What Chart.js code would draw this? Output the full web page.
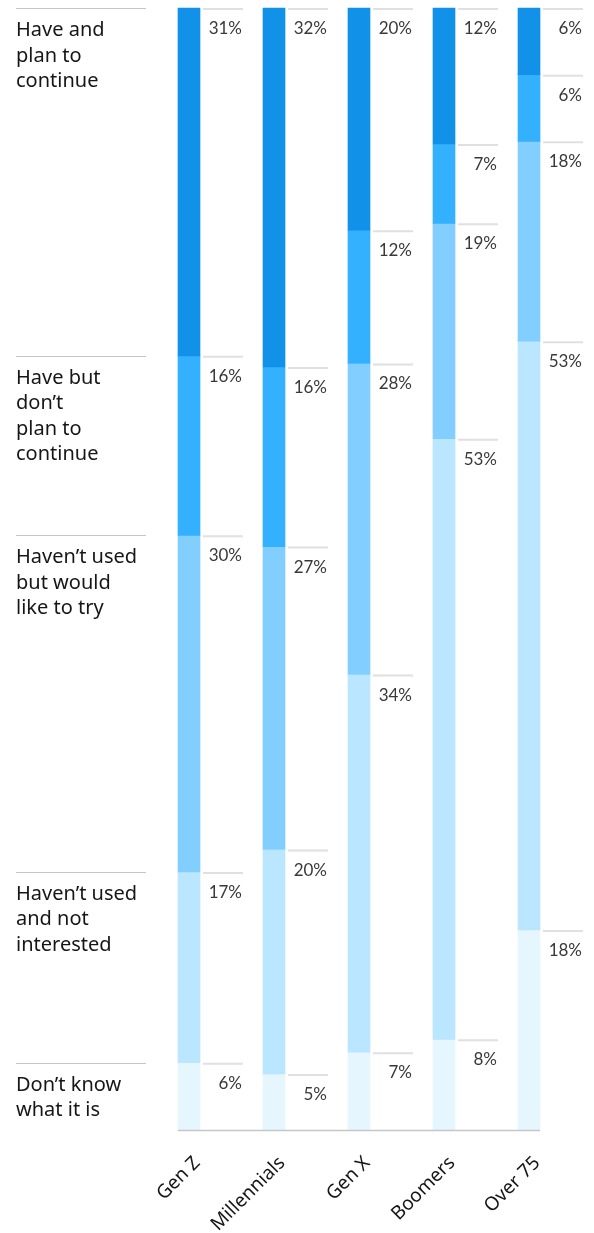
<!DOCTYPE html>
<html>
<head>
<meta charset="utf-8">
<script src="https://cdn.jsdelivr.net/npm/chart.js@4"></script>
<style>
  html, body { margin: 0; padding: 0; background: #fff; }
  canvas { display: block; }
</style>
</head>
<body>
<canvas id="chart" width="594" height="1233"></canvas>
<script>
// generations along the x axis
const generations = ["Gen Z", "Millennials", "Gen X", "Boomers", "Over 75"];

// response categories, top of the stack first (line breaks as in the legend)
const responses = [
    ["Have and", "plan to", "continue"],
    ["Have but", "don\u2019t", "plan to", "continue"],
    ["Haven\u2019t used", "but would", "like to try"],
    ["Haven\u2019t used", "and not", "interested"],
    ["Don\u2019t know", "what it is"]
];

// percentages per generation
const planToContinue   = [31, 32, 20, 12, 6];
const noPlanToContinue = [16, 16, 12, 7, 6];
const wouldLikeToTry   = [30, 27, 28, 19, 18];
const notInterested    = [17, 20, 34, 53, 53];
const dontKnow         = [6, 5, 7, 8, 18];

const series = [planToContinue, noPlanToContinue, wouldLikeToTry, notInterested, dontKnow];
const colors = ["#1192e8", "#33b1ff", "#82cfff", "#bae6ff", "#e5f6ff"];

// each bar fills the full height, so scale every stack to its own total
const totals = generations.map((_, j) => series.reduce((s, arr) => s + arr[j], 0));

const datasets = series.map((arr, i) => ({
    label: responses[i].join(" "),
    data: arr.map((v, j) => v / totals[j] * 100),
    backgroundColor: colors[i],
    borderWidth: 0,
    barThickness: 22,
    clip: false
}));

const labelPlugin = {
    id: "segmentLabels",
    afterDatasetsDraw(chart) {
        const ctx = chart.ctx;
        ctx.save();
        chart.data.datasets.forEach((ds, i) => {
            const meta = chart.getDatasetMeta(i);
            meta.data.forEach((bar, j) => {
                const top = Math.min(bar.y, bar.base);
                const right = bar.x + bar.width / 2;

                ctx.strokeStyle = "#e0e0e0";
                ctx.lineWidth = 2;
                ctx.beginPath();
                ctx.moveTo(right + 3, top + 1);
                ctx.lineTo(right + 43, top + 1);
                ctx.stroke();

                ctx.fillStyle = "#393939";
                ctx.font = "17px Lato";
                ctx.textAlign = "right";
                ctx.textBaseline = "alphabetic";
                ctx.fillText(series[i][j] + "%", right + 42, top + 26);

                // the legend text sits beside the first bar's segments
                if (j === 0) {
                    ctx.strokeStyle = "#c6c6c6";
                    ctx.lineWidth = 1;
                    ctx.beginPath();
                    ctx.moveTo(16, Math.round(top) + 0.5);
                    ctx.lineTo(146, Math.round(top) + 0.5);
                    ctx.stroke();

                    ctx.fillStyle = "#161616";
                    ctx.font = "20px 'Noto Sans'";
                    ctx.textAlign = "left";
                    responses[i].forEach((line, k) => {
                        ctx.fillText(line, 16, top + 28 + k * 25.5);
                    });
                }
            });
        });

        // baseline under the bars
        const first = chart.getDatasetMeta(0).data[0];
        const last = chart.getDatasetMeta(0).data[generations.length - 1];
        const y = chart.scales.y.getPixelForValue(100);
        ctx.strokeStyle = "#c6c6c6";
        ctx.lineWidth = 1.5;
        ctx.beginPath();
        ctx.moveTo(first.x - first.width / 2, y + 0.5);
        ctx.lineTo(last.x + last.width / 2, y + 0.5);
        ctx.stroke();
        ctx.restore();
    }
};

new Chart(document.getElementById("chart"), {
    type: "bar",
    data: { labels: generations, datasets },
    options: {
        responsive: false,
        animation: false,
        layout: { padding: { left: 189, right: 65, top: 8, bottom: 0 } },
        plugins: { legend: { display: false }, tooltip: { enabled: false } },
        scales: {
            x: {
                stacked: true,
                offset: false,
                grid: { display: false },
                border: { display: false },
                ticks: {
                    minRotation: 45,
                    maxRotation: 45,
                    color: "#161616",
                    font: { family: "'Noto Sans'", size: 19 },
                    padding: 14,
                    labelOffset: 8
                },
                afterFit: (scale) => { scale.height = 103; }
            },
            y: {
                stacked: true,
                display: false,
                reverse: true,
                min: 0,
                max: 100
            }
        }
    },
    plugins: [labelPlugin]
});
</script>
</body>
</html>
